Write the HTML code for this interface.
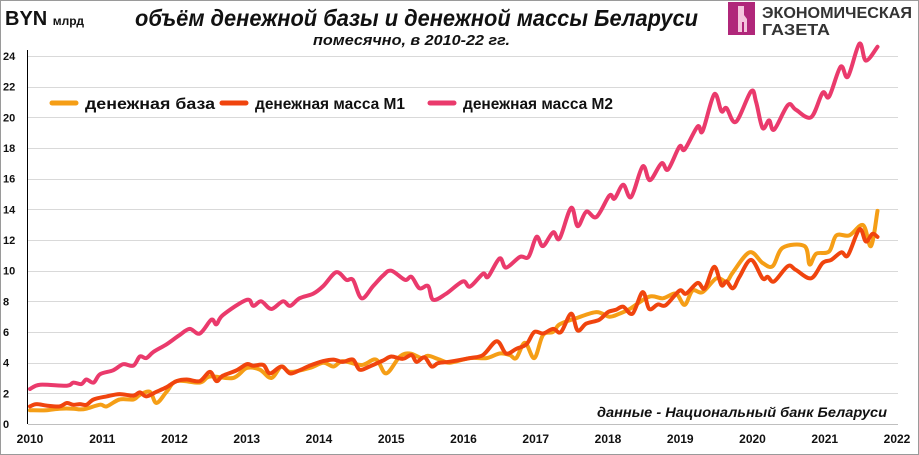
<!DOCTYPE html>
<html><head><meta charset="utf-8"><style>
html,body{margin:0;padding:0;background:#fff;}
svg{display:block;font-family:"Liberation Sans","DejaVu Sans",sans-serif;}
</style></head><body>
<svg id="chart" width="919" height="455" viewBox="0 0 919 455">
<rect x="0.5" y="0.5" width="918" height="454" fill="#fff" stroke="#9a9a9a"/>
<g id="grid"></g>
<g id="yticks"></g>
<g id="xticks"></g>
<line x1="27.5" y1="50" x2="27.5" y2="424" stroke="#000" stroke-width="1"/>
<g id="series"></g>
<text x="5" y="25" font-size="20" font-weight="bold" fill="#111">BYN <tspan font-size="12">млрд</tspan></text>
<text x="135" y="26" textLength="563" lengthAdjust="spacingAndGlyphs" font-size="23" font-weight="bold" font-style="italic" fill="#111">объём денежной базы и денежной массы Беларуси</text>
<text x="313" y="45" textLength="197" lengthAdjust="spacingAndGlyphs" font-size="15" font-weight="bold" font-style="italic" fill="#111">помесячно, в  2010-22 гг.</text>
<g>
<rect x="728" y="2" width="27" height="33" fill="#B0277A"/>
<path d="M738 6 h6 v9 l3 4 v13 h-3 v-10 h-2 v10 h-4 v-13 z" fill="#f4c6dd"/>
<text x="762" y="18" textLength="150" lengthAdjust="spacingAndGlyphs" font-size="16" font-weight="bold" fill="#333">ЭКОНОМИЧЕСКАЯ</text>
<text x="762" y="35" textLength="68" lengthAdjust="spacingAndGlyphs" font-size="16" font-weight="bold" fill="#333">ГАЗЕТА</text>
</g>
<g id="legend"></g>
<text x="597" y="417" textLength="290" lengthAdjust="spacingAndGlyphs" font-size="14" font-weight="bold" font-style="italic" fill="#111">данные - Национальный банк Беларуси</text>
</svg>
<script>
const xTicks = [2010,2011,2012,2013,2014,2015,2016,2017,2018,2019,2020,2021,2022];
const yTicks = [0,2,4,6,8,10,12,14,16,18,20,22,24];
const seriesNames = ["денежная база","денежная масса М1","денежная масса М2"];
const baseT = [0,.23,.41,.6,.69,.78,.97,1.06,1.24,1.43,1.52,1.66,1.75,1.89,2.03,2.35,2.49,2.81,3.0,3.18,3.34,3.48,3.6,3.87,4.06,4.2,4.33,4.59,4.79,4.93,5.12,5.26,5.42,5.51,5.67,5.81,6.09,6.32,6.5,6.64,6.73,6.85,6.98,7.1,7.24,7.33,7.56,7.84,8.02,8.16,8.3,8.57,8.76,8.94,9.06,9.17,9.31,9.5,9.64,9.73,9.96,10.14,10.28,10.42,10.72,10.79,10.88,11.06,11.16,11.34,11.53,11.64,11.73];
const baseV = [0.9,0.9,1.0,1.0,0.95,1.0,1.26,1.15,1.6,1.6,1.9,2.1,1.37,2.1,2.8,2.7,3.1,3.0,3.65,3.55,3.0,3.75,3.4,3.65,4.0,3.75,4.1,3.85,4.2,3.3,4.4,4.6,4.3,4.45,4.2,4.0,4.3,4.3,4.6,4.5,4.3,5.3,4.3,5.8,6.0,6.5,6.9,7.3,7.0,7.2,7.5,8.3,8.2,8.5,7.77,8.7,8.6,9.5,9.3,9.9,11.2,10.5,10.3,11.5,11.6,10.4,11.1,11.25,12.3,12.3,12.97,11.6,13.9];
const m1T = [0,.09,.23,.41,.51,.6,.69,.78,.88,1.06,1.24,1.43,1.52,1.61,1.75,1.89,2.03,2.17,2.35,2.49,2.58,2.67,2.86,3.0,3.09,3.23,3.32,3.48,3.6,3.73,3.87,4.06,4.2,4.33,4.47,4.56,4.7,4.89,5.0,5.16,5.28,5.35,5.46,5.56,5.65,5.81,6.09,6.27,6.46,6.59,6.73,6.87,6.98,7.1,7.24,7.35,7.49,7.58,7.7,7.88,8.0,8.11,8.21,8.34,8.48,8.57,8.69,8.8,8.99,9.08,9.24,9.34,9.47,9.57,9.64,9.73,9.82,9.98,10.14,10.21,10.3,10.49,10.6,10.81,10.97,11.09,11.23,11.32,11.48,11.57,11.66,11.73];
const m1V = [1.15,1.3,1.2,1.15,1.37,1.25,1.3,1.25,1.6,1.8,1.95,1.85,2.06,1.8,2.1,2.4,2.8,2.9,2.8,3.4,2.8,3.15,3.5,3.9,3.8,3.85,3.3,3.75,3.3,3.5,3.8,4.1,4.2,4.05,4.2,3.55,3.75,4.15,4.4,4.25,4.5,4.05,4.35,3.75,3.97,4.06,4.3,4.5,5.4,4.6,4.9,5.2,6.0,5.9,6.2,6.0,7.2,6.1,6.55,6.8,7.3,7.45,7.65,7.2,8.6,7.5,7.8,7.75,8.7,8.5,9.2,8.85,10.25,9.06,9.3,8.85,9.6,10.7,9.5,9.6,9.3,10.3,10.05,9.5,10.5,10.7,11.2,11.0,12.7,11.9,12.4,12.2];
const m2T = [0,.14,.51,.6,.71,.78,.88,.97,1.15,1.29,1.43,1.52,1.61,1.71,1.89,2.07,2.21,2.35,2.51,2.58,2.67,3.0,3.09,3.2,3.34,3.5,3.6,3.73,3.92,4.06,4.24,4.38,4.47,4.59,4.75,4.89,5.0,5.19,5.28,5.39,5.51,5.58,5.76,5.99,6.09,6.27,6.34,6.5,6.59,6.78,6.9,7.01,7.1,7.24,7.33,7.49,7.58,7.7,7.84,8.02,8.09,8.21,8.32,8.48,8.58,8.74,8.83,8.99,9.06,9.24,9.31,9.47,9.57,9.64,9.77,9.98,10.05,10.14,10.23,10.3,10.49,10.6,10.81,10.97,11.06,11.22,11.32,11.48,11.57,11.73];
const m2V = [2.28,2.56,2.5,2.7,2.6,2.9,2.7,3.25,3.5,3.9,3.8,4.4,4.3,4.7,5.2,5.8,6.2,5.9,6.8,6.5,7.1,8.1,7.7,8.0,7.5,8.0,7.7,8.2,8.5,9.0,9.9,9.4,9.4,8.2,9.0,9.7,10.0,9.4,9.6,8.85,9.0,8.1,8.5,9.3,8.96,9.8,9.6,10.8,10.2,10.9,10.9,12.2,11.6,12.5,12.1,14.1,12.9,13.85,13.5,14.9,14.7,15.6,14.8,16.8,15.9,17.0,16.6,18.1,17.9,19.4,19.1,21.5,20.4,20.6,19.7,21.7,21.0,19.3,19.8,19.2,20.8,20.5,20.0,21.6,21.35,23.3,22.65,24.8,23.7,24.6];

const NS="http://www.w3.org/2000/svg";
const X0=30, X1=897, Y0=424, Y1=56;
function xs(year){return X0+(year-2010)/12*(X1-X0);}
function ys(v){return Y0-v/24*(Y0-Y1);}
function mk(tag,attrs,parent){const e=document.createElementNS(NS,tag);for(const k in attrs)e.setAttribute(k,attrs[k]);parent.appendChild(e);return e;}
const grid=document.getElementById('grid'),yt=document.getElementById('yticks'),xt=document.getElementById('xticks'),ser=document.getElementById('series'),leg=document.getElementById('legend');
yTicks.forEach(v=>{
  const y=Math.round(ys(v))+0.5;
  const l=mk('line',{x1:28,x2:898,y1:y,y2:y,stroke:v===0?'#bfbfbf':'#d9d9d9','stroke-width':1},grid);
  
  
  const t=mk('text',{x:3,y:ys(v)+4,'font-size':11,'font-weight':'bold',fill:'#111'},yt);
  t.textContent=v;
  
  
});
xTicks.forEach(yr=>{
  const t=mk('text',{x:xs(yr),y:443,'text-anchor':'middle','font-size':12,'font-weight':'bold',fill:'#111'},xt);
  t.textContent=yr;
  
  
});
function smoothPath(T,V){
  const p=T.map((t,i)=>[xs(2010+t),ys(V[i])]);
  let d='M'+p[0][0].toFixed(1)+','+p[0][1].toFixed(1);
  for(let i=0;i<p.length-1;i++){
    const a=p[i-1]||p[i],b=p[i],c=p[i+1],e=p[i+2]||c;
    const c1=[b[0]+(c[0]-a[0])/6,b[1]+(c[1]-a[1])/6],c2=[c[0]-(e[0]-b[0])/6,c[1]-(e[1]-b[1])/6];
    d+='C'+c1[0].toFixed(1)+','+c1[1].toFixed(1)+' '+c2[0].toFixed(1)+','+c2[1].toFixed(1)+' '+c[0].toFixed(1)+','+c[1].toFixed(1);
  }
  return d;
}
const colors=['#F59E16','#F0440E','#EA3A6C'];
const data=[[baseT,baseV],[m1T,m1V],[m2T,m2V]];
const keys=['monetary-base-line','m1-line','m2-line'];
data.forEach((s,i)=>{
  const p=mk('path',{d:smoothPath(s[0],s[1]),fill:'none',stroke:colors[i],'stroke-width':4,'stroke-linejoin':'round','stroke-linecap':'round'},ser);
  
  
});
const legX=[52,222,430];
const legLen=[130,150,150];
seriesNames.forEach((n,i)=>{
  const g=mk('g',{},leg);
  
  
  mk('line',{x1:legX[i],x2:legX[i]+24,y1:103,y2:103,stroke:colors[i],'stroke-width':5,'stroke-linecap':'round'},g);
  const t=mk('text',{x:legX[i]+33,y:109,'font-size':16,'font-weight':'bold',fill:'#111',textLength:legLen[i],lengthAdjust:'spacingAndGlyphs'},g);
  t.textContent=n;
});
</script>
</body></html>
